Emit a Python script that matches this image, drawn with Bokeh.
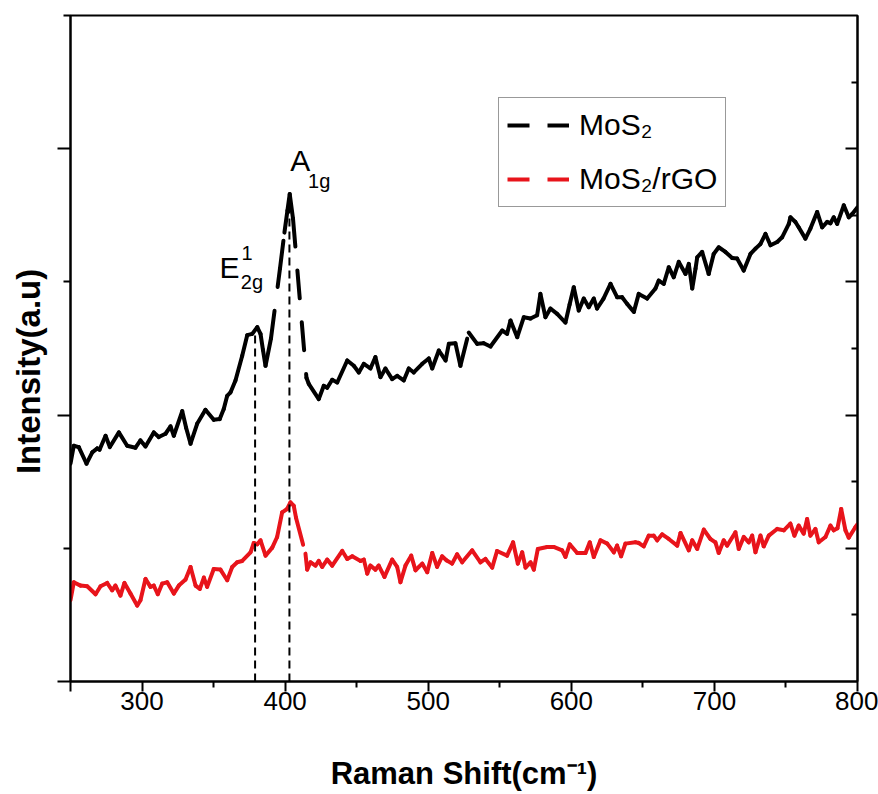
from bokeh.plotting import figure
from bokeh.models import (Range1d, LinearAxis, FixedTicker, Legend, LegendItem,
                          Label, ColumnDataSource)
from bokeh.embed import file_html
from bokeh.resources import INLINE

FONT = "Liberation Sans"

# ---------------- data ----------------
mos2_shift = [250, 252.3, 255.8, 261.2, 265.2, 268.7, 270.3, 274.5, 277.5, 283.8,
              289.6, 295.4, 298.9, 302.4, 308.2, 311.7, 316.4, 319.9, 322.2, 328.1,
              330.8, 333.9, 338.5, 344.3, 350.1, 354.3, 357.1, 359.5, 361.8, 365.3,
              370.0, 373.5, 377.0, 380.5, 382.8, 384.5, 386.3, 390.1, 396.4, 399.5,
              401.6, 403.2, 405.5, 414.9, 416.5, 423.5, 427.0, 429.4, 432.9, 436.4,
              443.4, 448.0, 451.5, 455.0, 459.6, 463.1, 466.6, 470.1, 474.8, 478.3,
              482.9, 486.4, 489.9, 495.8, 500.4, 502.8, 507.4, 512.1, 514.4, 519.0,
              522.5, 528.3, 534.2, 538.8, 543.5, 551.7, 555.1, 557.5, 562.2, 566.8,
              571.5, 576.1, 578.4, 581.9, 585.4, 590.1, 595.9, 598.8, 601.7, 605.2,
              608.7, 612.2, 615.7, 618.0, 622.5, 627.4, 632.0, 635.5, 639.0, 643.7,
              647.1, 653.0, 658.8, 661.1, 664.6, 668.1, 671.6, 675.1, 679.8, 682.1,
              684.5, 686.8, 688.0, 691.4, 696.0, 699.5, 703.0, 707.7, 712.4, 715.9,
              720.5, 725.2, 728.7, 732.2, 735.7, 739.2, 743.9, 747.3, 752.0, 753.1,
              756.6, 758.9, 763.6, 767.1, 771.8, 775.3, 778.8, 781.1, 783.4, 785.8,
              790.4, 793.9, 796.3, 800]
mos2_int = [3.27, 3.54, 3.52, 3.27, 3.44, 3.50, 3.48, 3.69, 3.52, 3.74,
            3.54, 3.51, 3.62, 3.53, 3.74, 3.67, 3.72, 3.83, 3.69, 4.06,
            3.81, 3.57, 3.87, 4.08, 3.93, 3.94, 4.09, 4.29, 4.34, 4.52,
            4.89, 5.20, 5.22, 5.32, 5.22, 4.98, 4.74, 5.15, 6.20, 6.74,
            7.07, 7.32, 6.95, 4.56, 4.47, 4.24, 4.44, 4.41, 4.53, 4.49,
            4.82, 4.74, 4.64, 4.77, 4.70, 4.87, 4.57, 4.70, 4.54, 4.59,
            4.52, 4.70, 4.64, 4.77, 4.85, 4.70, 4.97, 4.82, 5.07, 5.08,
            4.74, 5.24, 5.07, 5.08, 5.03, 5.27, 5.22, 5.42, 5.17, 5.47,
            5.45, 5.50, 5.82, 5.47, 5.60, 5.52, 5.39, 5.66, 5.92, 5.57,
            5.75, 5.62, 5.75, 5.60, 5.75, 5.97, 5.77, 5.77, 5.67, 5.55,
            5.82, 5.75, 5.90, 6.02, 5.97, 6.22, 6.07, 6.30, 6.12, 6.27,
            5.90, 6.20, 6.37, 6.45, 6.12, 6.42, 6.52, 6.45, 6.36, 6.35,
            6.17, 6.42, 6.50, 6.57, 6.72, 6.55, 6.60, 6.67, 6.87, 6.97,
            6.90, 6.82, 6.65, 6.80, 7.05, 6.82, 6.90, 6.88, 6.97, 6.87,
            7.15, 6.97, 7.02, 7.12]

rgo_shift = [250, 252.3, 257.0, 261.7, 267.5, 271.0, 275.6, 279.1, 281.4, 284.9,
             287.7, 291.9, 296.6, 298.9, 302.4, 305.9, 308.2, 311.0, 314.1, 317.6,
             322.2, 325.7, 330.4, 333.9, 337.4, 340.4, 343.2, 345.5, 350.1, 354.8,
             359.5, 363.0, 366.5, 370.0, 375.8, 378.1, 380.5, 382.8, 386.3, 391.0,
             394.4, 397.9, 401.4, 403.7, 406.0, 407.6, 414.2, 415.4, 417.7, 421.2,
             423.5, 425.9, 429.4, 432.9, 439.9, 443.4, 446.9, 452.7, 455.0, 457.4,
             459.6, 463.1, 465.4, 469.4, 474.8, 478.3, 480.6, 484.1, 488.1, 491.1,
             495.8, 499.3, 502.8, 506.2, 509.7, 512.7, 516.7, 520.2, 523.7, 530.7,
             536.5, 540.0, 544.7, 548.1, 555.1, 559.3, 562.6, 565.7, 568.0, 571.5,
             573.8, 576.6, 583.1, 587.7, 593.6, 595.9, 598.9, 604.1, 609.9, 612.9,
             615.7, 620.4, 625.1, 629.7, 632.0, 634.8, 637.8, 644.8, 647.1, 650.6,
             654.1, 657.6, 660.0, 663.5, 668.1, 674.0, 676.3, 682.1, 684.5, 688.0,
             692.6, 697.2, 700.7, 703.0, 706.5, 708.9, 714.7, 717.0, 720.5, 724.0,
             726.4, 728.7, 732.2, 734.5, 738.0, 743.8, 748.5, 753.1, 755.9, 758.9,
             762.4, 764.8, 767.1, 770.6, 772.9, 777.6, 781.1, 783.4, 786.0, 788.6,
             791.6, 793.9, 798.6, 800]
rgo_int = [1.22, 1.49, 1.44, 1.43, 1.31, 1.43, 1.48, 1.37, 1.44, 1.29,
           1.48, 1.32, 1.14, 1.22, 1.54, 1.42, 1.44, 1.31, 1.47, 1.49,
           1.32, 1.44, 1.53, 1.72, 1.44, 1.39, 1.56, 1.42, 1.69, 1.68,
           1.52, 1.72, 1.79, 1.81, 1.94, 2.08, 2.06, 2.12, 1.89, 2.01,
           2.17, 2.54, 2.59, 2.69, 2.64, 2.46, 1.92, 1.68, 1.79, 1.74,
           1.81, 1.72, 1.83, 1.74, 1.96, 1.84, 1.88, 1.81, 1.83, 1.62,
           1.74, 1.68, 1.74, 1.57, 1.83, 1.72, 1.49, 1.74, 1.89, 1.67,
           1.77, 1.64, 1.93, 1.72, 1.88, 1.82, 1.77, 1.91, 1.79, 1.97,
           1.79, 1.84, 1.71, 1.96, 1.89, 2.09, 1.77, 1.94, 1.71, 1.79,
           1.68, 1.99, 2.02, 2.02, 1.97, 1.87, 2.06, 1.93, 1.93, 2.09,
           1.87, 2.12, 2.07, 1.94, 2.04, 1.88, 2.07, 2.09, 2.08, 2.03,
           2.19, 2.19, 2.12, 2.21, 2.14, 2.04, 2.23, 1.97, 2.12, 1.99,
           2.28, 2.14, 2.09, 1.93, 2.12, 2.04, 2.24, 1.99, 2.17, 2.09,
           2.19, 1.94, 2.19, 2.03, 2.19, 2.29, 2.27, 2.37, 2.19, 2.34,
           2.22, 2.44, 2.19, 2.29, 2.09, 2.17, 2.34, 2.27, 2.30, 2.59,
           2.27, 2.16, 2.32, 2.36]

peak_pos = [379, 403]          # E2g^1 and A1g positions (cm-1)
peak_top = [5.2, 7.15]         # top of the dashed markers
x_major = [250, 300, 400, 500, 600, 700, 800]
x_minor = [350, 450, 550, 650, 750]
x_labels = {250: ""}
series_names = ["MoS\u2082", "MoS\u2082/rGO"]
series_colors = ["#000000", "#e8141b"]

# ---------------- figure ----------------
p = figure(width=878, height=794, x_range=Range1d(250, 800), y_range=Range1d(0, 10),
           output_backend="svg", toolbar_location=None,
           min_border_left=70, min_border_right=21, min_border_top=15,
           min_border_bottom=113, background_fill_color="white",
           border_fill_color="white")
p.xgrid.visible = False
p.ygrid.visible = False
p.outline_line_color = "black"
p.outline_line_width = 2
p.outline_line_alpha = 1


def seg_source(xs, ys):
    return ColumnDataSource(dict(x0=xs[:-1], y0=ys[:-1], x1=xs[1:], y1=ys[1:]))


for xs, ys, col in [(mos2_shift, mos2_int, series_colors[0]),
                    (rgo_shift, rgo_int, series_colors[1])]:
    p.segment("x0", "y0", "x1", "y1", source=seg_source(xs, ys), line_color=col,
              line_width=4, line_dash="28 24", line_cap="round", line_join="round")

# vertical peak markers
p.segment(x0=peak_pos, y0=[0, 0], x1=peak_pos, y1=peak_top, line_color="black",
          line_width=2, line_dash="8 5")

# ---------------- axes ----------------
xa = p.xaxis[0]
xa.ticker = FixedTicker(ticks=x_major, minor_ticks=x_minor)
xa.major_label_overrides = x_labels
xa.major_tick_out = 10
xa.major_tick_in = 0
xa.minor_tick_out = 6
xa.minor_tick_in = 0
xa.axis_line_width = 2
xa.major_tick_line_width = 2
xa.minor_tick_line_width = 2
xa.major_label_text_font = FONT
xa.major_label_text_font_size = "26px"
xa.major_label_text_color = "black"
xa.major_label_standoff = 0
xa.axis_label = "Raman Shift(cm\u207b\u00b9)"
xa.axis_label_text_font = FONT
xa.axis_label_text_font_size = "31px"
xa.axis_label_text_font_style = "bold"
xa.axis_label_text_color = "black"
xa.axis_label_standoff = 43

ya = p.yaxis[0]
ya.ticker = FixedTicker(ticks=[0, 4, 8], minor_ticks=[2, 6, 10])
ya.major_label_overrides = {0: "", 4: "", 8: ""}
ya.major_tick_out = 13
ya.major_tick_in = 0
ya.minor_tick_out = 7
ya.minor_tick_in = 0
ya.axis_line_width = 2
ya.major_tick_line_width = 2
ya.minor_tick_line_width = 2
# trailing no-break spaces push the (centred) title a little below the frame centre
ya.axis_label = "Intensity(a.u)" + "\u00a0" * 5
ya.axis_label_text_font = FONT
ya.axis_label_text_font_size = "33px"
ya.axis_label_text_font_style = "bold"
ya.axis_label_text_color = "black"
ya.axis_label_standoff = 11

ra = LinearAxis(ticker=FixedTicker(ticks=[2, 4, 6, 8], minor_ticks=[1, 3, 5, 7, 9]))
ra.major_label_overrides = {2: "", 4: "", 6: "", 8: ""}
ra.major_tick_in = 12
ra.major_tick_out = 0
ra.minor_tick_in = 6
ra.minor_tick_out = 0
ra.axis_line_width = 2
ra.major_tick_line_width = 2
ra.minor_tick_line_width = 2
p.add_layout(ra, "right")

# ---------------- peak labels ----------------
def lab(x, y, t, size):
    p.add_layout(Label(x=x, y=y, text=t, text_font=FONT, text_font_size=size,
                       text_color="black", text_baseline="alphabetic",
                       text_align="left"))

lab(403.5, 7.82, "A", "30px")
lab(416.0, 7.52, "1g", "20px")
lab(354.1, 6.21, "E", "30px")
lab(369.5, 6.44, "1", "20px")
lab(369.0, 6.00, "2g", "20px")

# ---------------- legend ----------------
nan = float("nan")
items = []
for name, col in zip(series_names, series_colors):
    r = p.line(x=[nan], y=[nan], line_color=col, line_width=4, line_dash="22 18")
    items.append(LegendItem(label=name, renderers=[r]))
legend = Legend(items=items, location=(428, 474), padding=8, spacing=16,
                glyph_width=62, glyph_height=38, label_height=38,
                label_standoff=10, margin=0,
                label_text_font=FONT, label_text_font_size="30px",
                label_text_color="black", border_line_color="#333333",
                border_line_width=1.5, background_fill_color="white",
                background_fill_alpha=1)
p.add_layout(legend)

open("out.html", "w").write(file_html(p, INLINE))
